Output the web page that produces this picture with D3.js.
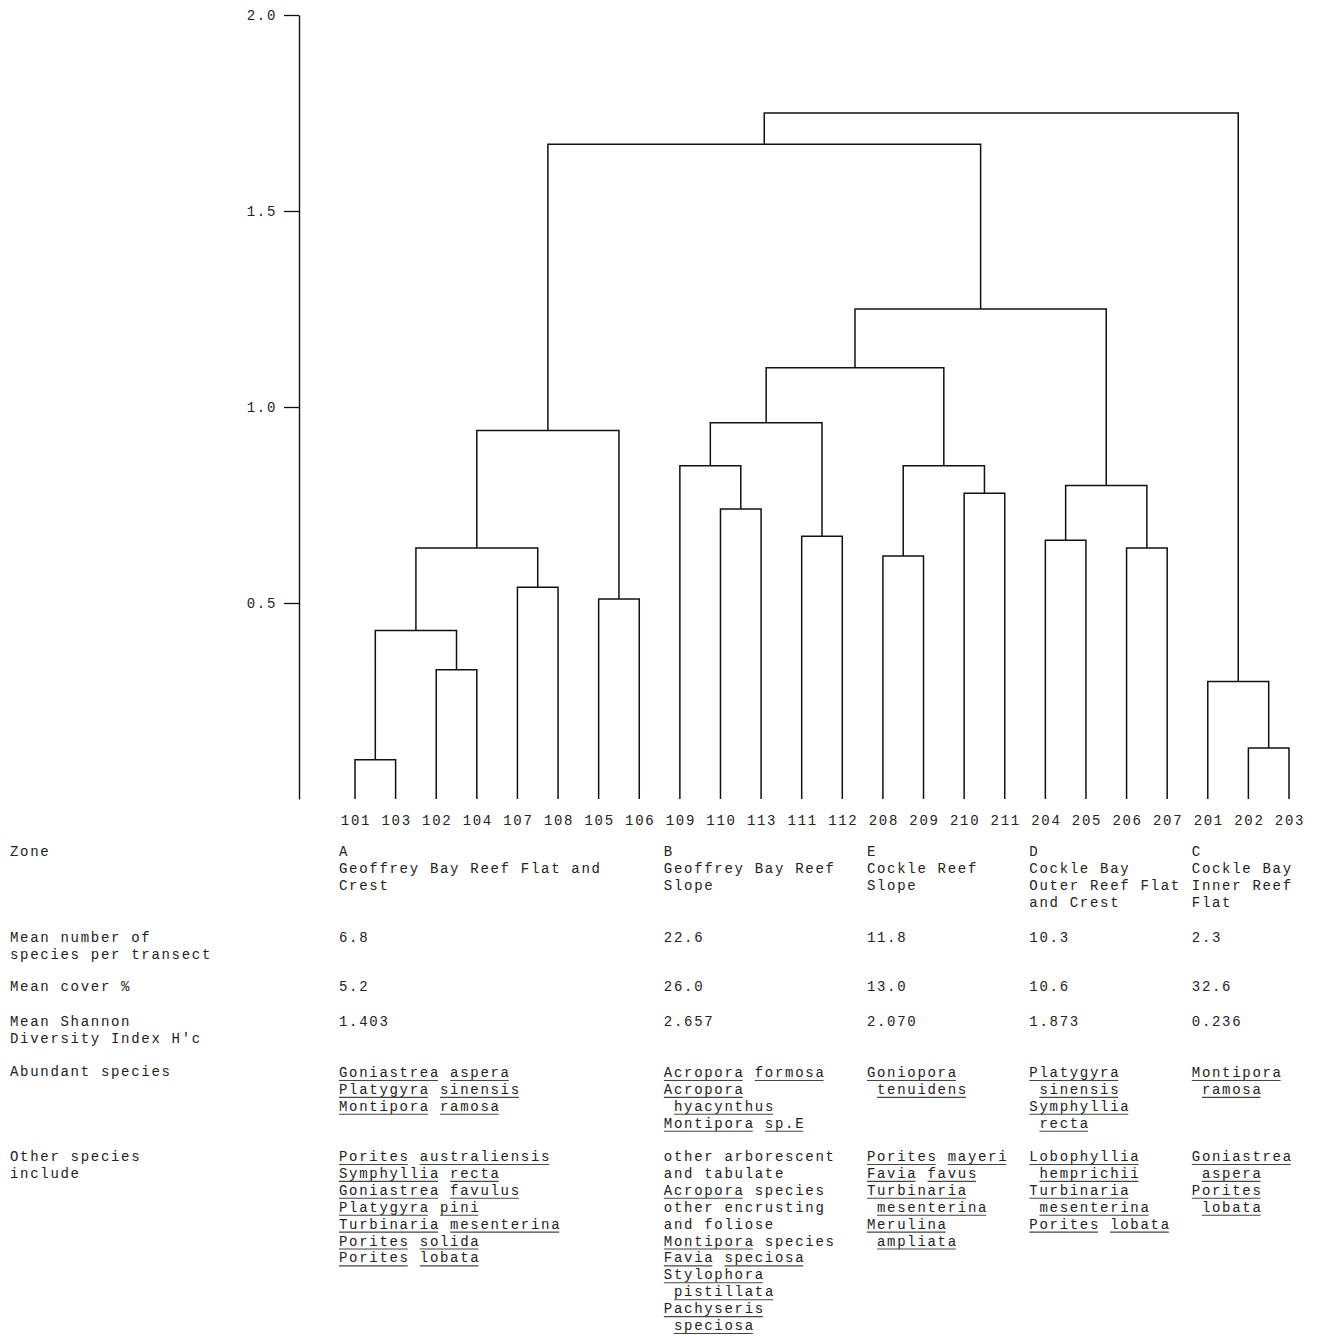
<!DOCTYPE html>
<html>
<head>
<meta charset="utf-8">
<script src="https://cdn.jsdelivr.net/npm/d3@7"></script>
<style>
  body { margin: 0; background: #fff; }
  text { font-family: "Liberation Mono", "DejaVu Sans Mono", monospace; font-size: 14px; letter-spacing: 1.7px; fill: #222; }
</style>
</head>
<body>
<script>
// leaf order along the bottom of the dendrogram
var leaves = ["101","103","102","104","107","108","105","106","109","110","113","111","112",
              "208","209","210","211","204","205","206","207","201","202","203"];

// fusions: [left, right, dissimilarity]; fusion i gets the id "m" + i
var merges = [
  ["101", "103", 0.10],
  ["102", "104", 0.33],
  ["m0",  "m1",  0.43],
  ["107", "108", 0.54],
  ["m2",  "m3",  0.64],
  ["105", "106", 0.51],
  ["m4",  "m5",  0.94],
  ["110", "113", 0.74],
  ["109", "m7",  0.85],
  ["111", "112", 0.67],
  ["m8",  "m9",  0.96],
  ["208", "209", 0.62],
  ["210", "211", 0.78],
  ["m11", "m12", 0.85],
  ["m10", "m13", 1.10],
  ["204", "205", 0.66],
  ["206", "207", 0.64],
  ["m15", "m16", 0.80],
  ["m14", "m17", 1.25],
  ["m6",  "m18", 1.67],
  ["202", "203", 0.13],
  ["201", "m20", 0.30],
  ["m19", "m21", 1.75]
];

var yTicks = [0.5, 1.0, 1.5, 2.0];

// table below the tree
var zoneFirstLeaf = ["101", "109", "208", "204", "201"];
var zoneCodes = ["A", "B", "E", "D", "C"];
var zoneNames = [
  ["Geoffrey Bay Reef Flat and", "Crest"],
  ["Geoffrey Bay Reef", "Slope"],
  ["Cockle Reef", "Slope"],
  ["Cockle Bay", "Outer Reef Flat", "and Crest"],
  ["Cockle Bay", "Inner Reef", "Flat"]
];
var meanSpecies = [6.8, 22.6, 11.8, 10.3, 2.3];
var meanCover = [5.2, 26.0, 13.0, 10.6, 32.6];
var meanShannon = [1.403, 2.657, 2.070, 1.873, 0.236];
var abundant = [
  ["Goniastrea aspera", "Platygyra sinensis", "Montipora ramosa"],
  ["Acropora formosa", "Acropora", " hyacynthus", "Montipora sp.E"],
  ["Goniopora", " tenuidens"],
  ["Platygyra", " sinensis", "Symphyllia", " recta"],
  ["Montipora", " ramosa"]
];
var others = [
  ["Porites australiensis", "Symphyllia recta", "Goniastrea favulus", "Platygyra pini",
   "Turbinaria mesenterina", "Porites solida", "Porites lobata"],
  ["other arborescent", "and tabulate", "Acropora species", "other encrusting", "and foliose",
   "Montipora species", "Favia speciosa", "Stylophora", " pistillata", "Pachyseris", " speciosa"],
  ["Porites mayeri", "Favia favus", "Turbinaria", " mesenterina", "Merulina", " ampliata"],
  ["Lobophyllia", " hemprichii", "Turbinaria", " mesenterina", "Porites lobata"],
  ["Goniastrea", " aspera", "Porites", " lobata"]
];
var plainWords = ["other", "arborescent", "and", "tabulate", "species", "encrusting", "foliose"];

var width = 1317, height = 1336;
var charW = 10.1, lineH = 16.9;

var svg = d3.select("body").append("svg")
  .attr("width", width)
  .attr("height", height);

var x = d3.scalePoint().domain(leaves).range([355, 1289]);
var y = d3.scaleLinear().domain([0, 2]).range([799, 15]);

// build the tree from the fusion list
var nodes = {};
leaves.forEach(function(l) { nodes[l] = {name: l, h: 0}; });
merges.forEach(function(m, i) {
  nodes["m" + i] = {name: "m" + i, h: m[2], children: [nodes[m[0]], nodes[m[1]]]};
});
var root = d3.hierarchy(nodes["m" + (merges.length - 1)]);
root.eachAfter(function(d) {
  d.px = d.children ? d3.mean(d.children, c => c.px) : x(d.data.name);
});

// axis
var axis = d3.axisLeft(y)
  .tickValues(yTicks)
  .tickFormat(d3.format(".1f"))
  .tickSize(15)
  .tickSizeOuter(0)
  .tickPadding(7);

var gAxis = svg.append("g")
  .attr("transform", "translate(299,0)")
  .call(axis);
gAxis.select(".domain").attr("stroke", "#111").attr("stroke-width", 1.4);
gAxis.selectAll(".tick line").attr("stroke", "#111").attr("stroke-width", 1.3);
gAxis.selectAll(".tick text")
  .attr("font-family", null).attr("font-size", null).attr("fill", null);

// dendrogram links
svg.append("g").selectAll("path")
  .data(root.descendants().filter(d => d.children))
  .enter().append("path")
  .attr("fill", "none")
  .attr("stroke", "#111")
  .attr("stroke-width", 1.5)
  .attr("d", function(d) {
    var a = d.children[0], b = d.children[1];
    return "M" + a.px + "," + y(a.data.h) +
           "V" + y(d.data.h) +
           "H" + b.px +
           "V" + y(b.data.h);
  });

// leaf labels
svg.append("g").selectAll("text")
  .data(leaves)
  .enter().append("text")
  .attr("x", d => x(d) + 1)
  .attr("y", 825)
  .attr("text-anchor", "middle")
  .text(d => d);

// table
var colX = zoneFirstLeaf.map(l => x(l) - 16);

function rowLabel(lines, y0) {
  lines.forEach(function(t, i) {
    svg.append("text").attr("x", 10).attr("y", y0 + i * lineH).text(t);
  });
}

function column(lines, xi, y0, underline) {
  lines.forEach(function(line, i) {
    var lead = line.length - line.replace(/^\s+/, "").length;
    var by = y0 + i * lineH;
    svg.append("text")
      .attr("x", xi + lead * charW)
      .attr("y", by)
      .text(line.trim());
    if (!underline) return;
    var re = /\S+/g, m;
    while ((m = re.exec(line)) !== null) {
      if (plainWords.indexOf(m[0]) >= 0) continue;
      svg.append("line")
        .attr("x1", xi + m.index * charW)
        .attr("x2", xi + (m.index + m[0].length) * charW - 2)
        .attr("y1", by + 3.5).attr("y2", by + 3.5)
        .attr("stroke", "#444")
        .attr("stroke-width", 1.1);
    }
  });
}

rowLabel(["Zone"], 856);
rowLabel(["Mean number of", "species per transect"], 942);
rowLabel(["Mean cover %"], 991);
rowLabel(["Mean Shannon", "Diversity Index H'c"], 1026);
rowLabel(["Abundant species"], 1076);
rowLabel(["Other species", "include"], 1161);

zoneCodes.forEach(function(z, i) {
  column([z].concat(zoneNames[i]), colX[i], 856, false);
  column([d3.format(".1f")(meanSpecies[i])], colX[i], 942, false);
  column([d3.format(".1f")(meanCover[i])], colX[i], 991, false);
  column([d3.format(".3f")(meanShannon[i])], colX[i], 1026, false);
  column(abundant[i], colX[i], 1077, true);
  column(others[i], colX[i], 1161, true);
});
</script>
</body>
</html>
